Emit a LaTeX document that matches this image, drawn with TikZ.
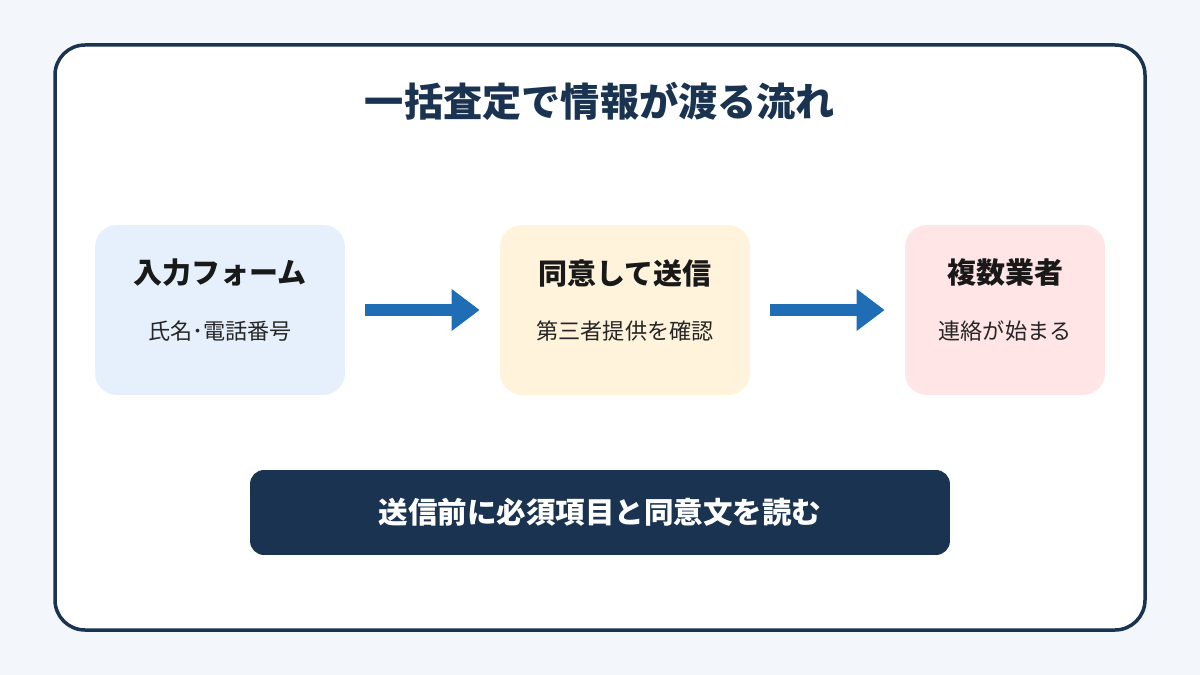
\documentclass[tikz,border=0pt]{standalone}
\usepackage{fontspec}
\setmainfont{Noto Sans CJK JP}
\usetikzlibrary{arrows.meta,positioning}

\definecolor{pagebg}{HTML}{F3F6FB}
\definecolor{navy}{HTML}{1A3350}
\definecolor{flowblue}{HTML}{1F6DB5}
\definecolor{formfill}{HTML}{E6F0FC}
\definecolor{sendfill}{HTML}{FFF3DC}
\definecolor{dealerfill}{HTML}{FFE5E5}

\begin{document}
\begin{tikzpicture}[x=0.02cm,y=-0.02cm,
    stepbox/.style={rounded corners=0.44cm,minimum width=5cm,minimum height=3.4cm,inner sep=0pt},
    boxtitle/.style={font=\fontsize{16.5}{18}\selectfont\bfseries,text=black!90},
    boxsub/.style={font=\fontsize{12.6}{14}\selectfont,text=black!85},
    flowarrow/.style={flowblue,line width=0.24cm,shorten <=0.4cm,shorten >=0.4cm,
      -{Triangle[length=0.56cm,width=0.8cm]}}]
  % page and frame
  \fill[pagebg] (0,0) rectangle (1200,675);
  \draw[navy,fill=white,line width=0.07cm,rounded corners=0.6cm] (55,45) rectangle (1145,630);
  \node[text=navy,font=\fontsize{22.3}{26}\selectfont\bfseries] (title) at (600,101) {一括査定で情報が渡る流れ};
  % three steps
  \node[stepbox,fill=formfill] (form) at (220,310) {};
  \node[stepbox,fill=sendfill] (send) at (625,310) {};
  \node[stepbox,fill=dealerfill,minimum width=4cm] (dealer) at (1005,310) {};
  \node[boxtitle] (formT) at (220,273) {入力フォーム};
  \node[boxsub] (formS) at (220,331) {氏名･電話番号};
  \node[boxtitle] (sendT) at (625,273) {同意して送信};
  \node[boxsub] (sendS) at (625,331) {第三者提供を確認};
  \node[boxtitle] (dealerT) at (1005,273) {複数業者};
  \node[boxsub] (dealerS) at (1005,331) {連絡が始まる};
  % arrows
  \draw[flowarrow] (form.east) -- (send.west);
  \draw[flowarrow] (send.east) -- (dealer.west);
  % note bar
  \node[fill=navy,rounded corners=0.28cm,minimum width=14cm,minimum height=1.7cm,
    text=white,font=\fontsize{16.8}{19}\selectfont\bfseries] (note) at (600,512.5) {送信前に必須項目と同意文を読む};
\end{tikzpicture}
\end{document}
